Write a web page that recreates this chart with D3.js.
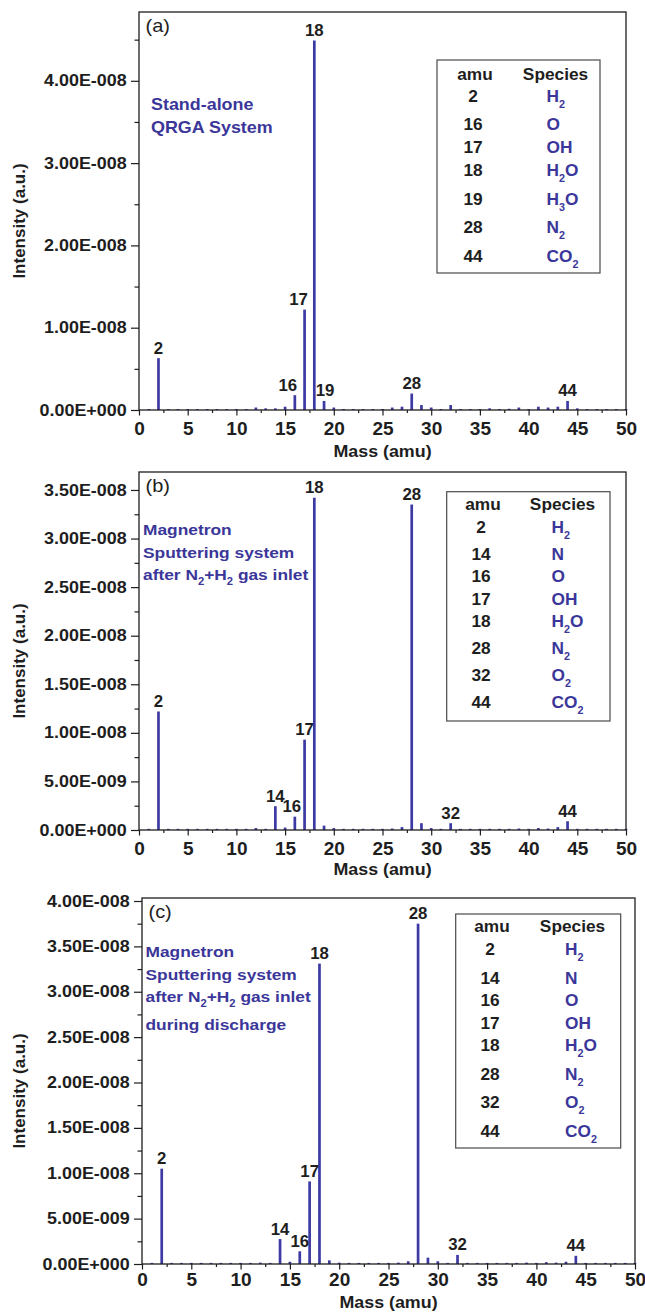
<!DOCTYPE html>
<html>
<head>
<meta charset="utf-8">
<script src="https://cdn.jsdelivr.net/npm/d3@7"></script>
<style>
  body { margin: 0; background: #fff; }
  svg { display: block; }
  text { font-family: "Liberation Sans", Arial, sans-serif; }
</style>
</head>
<body>
<div id="chart"></div>
<script>
// mass numbers 1..50 amu; intensities below are in units of 1E-8
const masses = d3.range(1, 51);

const intensityA = [
  0.012, 0.63, 0.012, 0.012, 0.012, 0.012, 0.012, 0.012, 0.012, 0.012,
  0.012, 0.03, 0.02, 0.02, 0.04, 0.18, 1.22, 4.49, 0.11, 0.03,
  0.012, 0.012, 0.012, 0.012, 0.012, 0.03, 0.04, 0.2, 0.06, 0.03,
  0.012, 0.06, 0.012, 0.012, 0.012, 0.02, 0.012, 0.015, 0.03, 0.012,
  0.04, 0.03, 0.04, 0.11, 0.02, 0.012, 0.012, 0.012, 0.012, 0.012
];
const intensityB = [
  0.012, 1.22, 0.012, 0.012, 0.012, 0.012, 0.012, 0.012, 0.012, 0.012,
  0.012, 0.02, 0.012, 0.245, 0.025, 0.137, 0.93, 3.42, 0.045, 0.02,
  0.012, 0.012, 0.012, 0.012, 0.012, 0.015, 0.03, 3.35, 0.07, 0.02,
  0.012, 0.07, 0.012, 0.012, 0.012, 0.012, 0.012, 0.012, 0.015, 0.012,
  0.02, 0.015, 0.03, 0.09, 0.012, 0.012, 0.012, 0.012, 0.012, 0.012
];
const intensityC = [
  0.012, 1.05, 0.012, 0.012, 0.012, 0.012, 0.012, 0.012, 0.012, 0.012,
  0.012, 0.015, 0.012, 0.275, 0.025, 0.14, 0.91, 3.31, 0.04, 0.015,
  0.012, 0.012, 0.012, 0.012, 0.012, 0.015, 0.03, 3.75, 0.07, 0.03,
  0.012, 0.1, 0.012, 0.012, 0.012, 0.012, 0.012, 0.012, 0.015, 0.012,
  0.02, 0.015, 0.025, 0.09, 0.012, 0.012, 0.012, 0.012, 0.012, 0.012
];

// labelled peaks
const peaksA = [2, 16, 17, 18, 19, 28, 44];
const peaksB = [2, 14, 16, 17, 18, 28, 32, 44];
const peaksC = [2, 14, 16, 17, 18, 28, 32, 44];

// legend tables ("_n" = subscript)
const amuA = [2, 16, 17, 18, 19, 28, 44];
const speciesA = ["H_2", "O", "OH", "H_2O", "H_3O", "N_2", "CO_2"];
const amuB = [2, 14, 16, 17, 18, 28, 32, 44];
const speciesB = ["H_2", "N", "O", "OH", "H_2O", "N_2", "O_2", "CO_2"];
const amuC = [2, 14, 16, 17, 18, 28, 32, 44];
const speciesC = ["H_2", "N", "O", "OH", "H_2O", "N_2", "O_2", "CO_2"];

const noteA = ["Stand-alone", "QRGA System"];
const noteB = ["Magnetron", "Sputtering system", "after N_2+H_2 gas inlet"];
const noteC = ["Magnetron", "Sputtering system", "after N_2+H_2 gas inlet", "during discharge"];

const xTicks = [0, 5, 10, 15, 20, 25, 30, 35, 40, 45, 50];
const yTicksA = [0, 1, 2, 3, 4];
const yTicksB = [0, 0.5, 1, 1.5, 2, 2.5, 3, 3.5];
const yTicksC = [0, 0.5, 1, 1.5, 2, 2.5, 3, 3.5, 4];

const blue = "#3b3699";
const barBlue = "#3e3aa4";
const ink = "#1e1e1e";

const width = 645, height = 1312;

const svg = d3.select("#chart").append("svg")
  .attr("width", width)
  .attr("height", height);

// 4.00E-008 style labels
function sci(v) {
  const val = v * 1e-8;
  if (Math.abs(val) < 1e-20) return "0.00E+000";
  const e = Math.floor(Math.log10(Math.abs(val)) + 1e-9);
  const m = val / Math.pow(10, e);
  return m.toFixed(2) + "E" + (e < 0 ? "-" : "+") + String(Math.abs(e)).padStart(3, "0");
}

// text with optional subscripts, slightly stretched horizontally like the source figure
function label(g, x, y, str, o = {}) {
  const t = g.append("text")
    .attr("transform", `translate(${x},${y}) scale(${o.sx || 1.08},1)` + (o.rot ? ` rotate(${o.rot})` : ""))
    .attr("font-size", o.size || 16)
    .attr("font-weight", o.weight || "bold")
    .attr("fill", o.fill || ink)
    .attr("text-anchor", o.anchor || "start");
  const parts = str.split(/_(\d)/);
  const subDy = o.subDy || 5;
  parts.forEach((p, i) => {
    if (!p) return;
    if (i % 2) t.append("tspan").attr("font-size", o.subSize || 10).attr("dy", subDy).text(p);
    else t.append("tspan").attr("dy", i ? -subDy : 0).text(p);
  });
  return t;
}

const panels = [
  { tag: "(a)", values: intensityA, peaks: peaksA, amu: amuA, species: speciesA, note: noteA, yTicks: yTicksA,
    left: 139, right: 626, top: 12, zero: 410, yMax: 4.836, minorStep: 1,
    noteX: 151, noteY: 110, noteSize: 16, tickDy: 25, massDy: 46.5,
    box: [437, 60, 600, 273], amuX: 473, spHeadX: 555.5, spX: 546.5, headY: 80, rowY: 101.7,
    stepSub: 28.5, stepPlain: 23,
    peakDx: { 16: -7, 17: -6, 19: 1 } },
  { tag: "(b)", values: intensityB, peaks: peaksB, amu: amuB, species: speciesB, note: noteB, yTicks: yTicksB,
    left: 139, right: 626, top: 472, zero: 830, yMax: 3.685, minorStep: 0.5,
    noteX: 143, noteY: 535, noteSize: 15.5, tickDy: 25, massDy: 45,
    box: [446.7, 491.7, 610, 721], amuX: 481, spHeadX: 562.5, spX: 551.5, headY: 510, rowY: 533,
    stepSub: 27.2, stepPlain: 22.2,
    peakDx: { 16: -3 } },
  { tag: "(c)", values: intensityC, peaks: peaksC, amu: amuC, species: speciesC, note: noteC, yTicks: yTicksC,
    left: 142, right: 635, top: 898, zero: 1264, yMax: 4.033, minorStep: 0.5,
    noteX: 145.5, noteY: 957, noteSize: 15.5, tickDy: 22, massDy: 44,
    box: [455.7, 914, 620.7, 1148], amuX: 490, spHeadX: 572.5, spX: 565, headY: 931.7, rowY: 955,
    stepSub: 28.5, stepPlain: 22.6,
    peakDx: {} }
];

panels.forEach(p => {
  const g = svg.append("g");

  const x = d3.scaleLinear().domain([0, 50]).range([p.left, p.right]);
  const y = d3.scaleLinear().domain([0, p.yMax]).range([p.zero, p.top]);

  // bars
  g.append("g")
    .selectAll("rect")
    .data(masses.map((m, i) => ({ m, v: p.values[i] })))
    .join("rect")
    .attr("x", d => x(d.m) - 1.35)
    .attr("width", 2.7)
    .attr("y", d => y(d.v))
    .attr("height", d => y(0) - y(d.v))
    .attr("fill", barBlue);

  // y axis: minor then major ticks
  const minorY = d3.range(p.minorStep / 2, p.yMax, p.minorStep);
  g.append("g")
    .attr("transform", `translate(${p.left},0)`)
    .call(d3.axisLeft(y).tickValues(minorY).tickSize(4.5).tickFormat(""))
    .call(a => a.select(".domain").remove())
    .call(a => a.selectAll("line").attr("stroke", ink).attr("stroke-width", 1.2));

  g.append("g")
    .attr("transform", `translate(${p.left},0)`)
    .call(d3.axisLeft(y).tickValues(p.yTicks).tickSize(8).tickPadding(3).tickFormat(sci))
    .call(a => a.select(".domain").remove())
    .call(a => a.selectAll("line").attr("stroke", ink).attr("stroke-width", 1.2))
    .call(a => a.selectAll("text")
      .attr("transform", "scale(1.12,1)")
      .attr("font-size", 16)
      .attr("font-weight", "bold")
      .attr("fill", ink));

  // x axis
  g.append("g")
    .attr("transform", `translate(0,${p.zero})`)
    .call(d3.axisBottom(x).tickValues(d3.range(2.5, 50, 5)).tickSize(3).tickFormat(""))
    .call(a => a.select(".domain").remove())
    .call(a => a.selectAll("line").attr("stroke", ink).attr("stroke-width", 1.2));

  g.append("g")
    .attr("transform", `translate(0,${p.zero})`)
    .call(d3.axisBottom(x).tickValues(xTicks).tickSize(5.5))
    .call(a => a.select(".domain").remove())
    .call(a => a.selectAll("line").attr("stroke", ink).attr("stroke-width", 1.2))
    .call(a => a.selectAll("text")
      .attr("y", p.tickDy)
      .attr("dy", null)
      .attr("transform", "scale(1.06,1)")
      .attr("font-size", 18)
      .attr("font-weight", "bold")
      .attr("fill", ink));

  // frame
  g.append("rect")
    .attr("x", p.left)
    .attr("y", p.top)
    .attr("width", p.right - p.left)
    .attr("height", p.zero - p.top)
    .attr("fill", "none")
    .attr("stroke", ink)
    .attr("stroke-width", 1.3);

  // peak labels
  p.peaks.forEach(m => {
    const v = p.values[m - 1];
    label(g, x(m) + (p.peakDx[m] || 0), y(v) - 4.5, String(m), { anchor: "middle", size: 16, sx: 1.05 });
  });

  // panel tag and description
  label(g, p.left + 6.5, p.top + 20, p.tag, { weight: "normal", size: 19, sx: 1.05 });
  let ny = p.noteY;
  p.note.forEach(line => {
    label(g, p.noteX, ny, line, { fill: blue, size: p.noteSize, sx: 1.12, subSize: 10, subDy: 5 });
    ny += line.includes("_") ? 27.5 : 22.5;
  });

  // legend table; rows holding a subscript take a little more room
  const [bx0, by0, bx1, by1] = p.box;
  g.append("rect")
    .attr("x", bx0).attr("y", by0)
    .attr("width", bx1 - bx0).attr("height", by1 - by0)
    .attr("fill", "#fff")
    .attr("stroke", "#4a4a4a")
    .attr("stroke-width", 1.2);
  label(g, p.amuX + 2, p.headY, "amu", { anchor: "middle", size: 16 });
  label(g, p.spHeadX, p.headY, "Species", { anchor: "middle", size: 16 });
  let ry = p.rowY;
  p.amu.forEach((m, i) => {
    label(g, p.amuX, ry, String(m), { anchor: "middle", size: 16 });
    label(g, p.spX, ry, p.species[i], { fill: blue, size: 16, subSize: 10, subDy: 6 });
    ry += p.species[i].includes("_") ? p.stepSub : p.stepPlain;
  });

  // axis titles
  label(g, 25, (p.top + p.zero) / 2 + 10, "Intensity (a.u.)", { anchor: "middle", size: 17, sx: 1, rot: -90 });
  label(g, (p.left + p.right) / 2, p.zero + p.massDy, "Mass (amu)", { anchor: "middle", size: 17, sx: 1.05 });
});
</script>
</body>
</html>
